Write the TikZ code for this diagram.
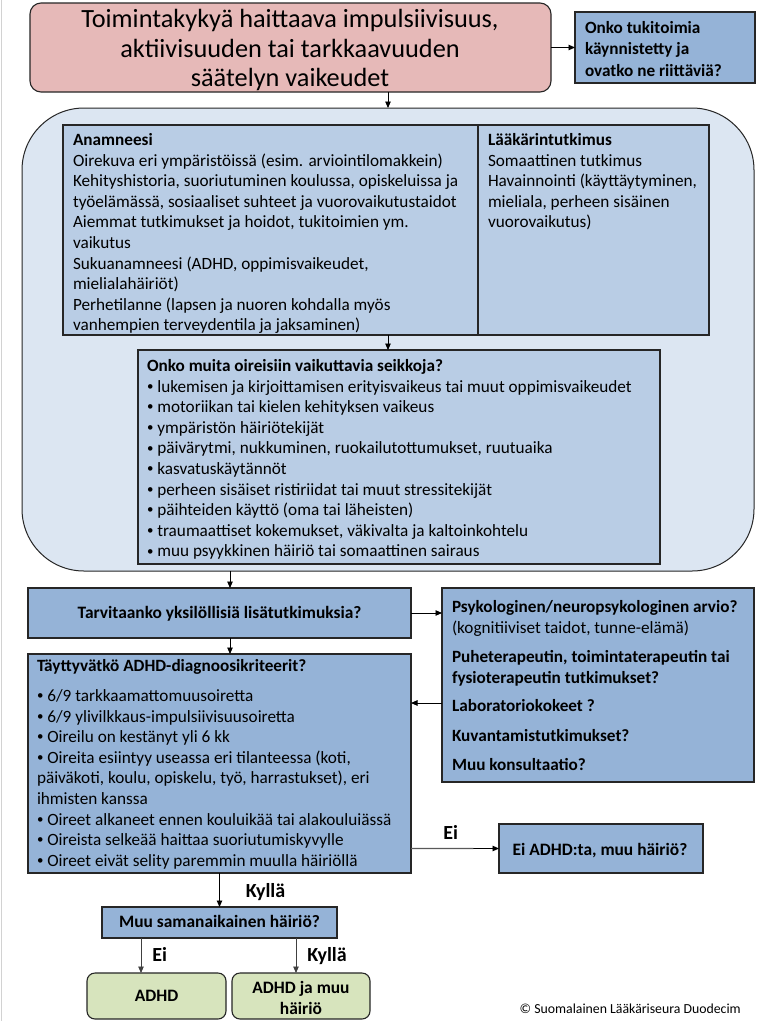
\documentclass[tikz,border=0pt]{standalone}
\usepackage{fontspec}
\setmainfont{Carlito}
\usetikzlibrary{arrows.meta,calc}
\definecolor{pinkfill}{HTML}{E6B9B8}
\definecolor{bluefill}{HTML}{95B3D7}
\definecolor{midfill}{HTML}{B9CDE5}
\definecolor{lightfill}{HTML}{DCE6F2}
\definecolor{greenfill}{HTML}{D7E4BD}
\definecolor{edgecol}{HTML}{262626}
\newcommand{\bul}{\raisebox{0.1em}{\scalebox{0.75}{•}}}
\begin{document}
\begin{tikzpicture}[x=1pt,y=-1pt,
  box/.style={draw=edgecol, line width=1.1pt, inner sep=0pt, outer sep=0pt, anchor=north west},
  txt/.style={inner sep=0pt, outer sep=0pt, anchor=north west, align=left, font=\fontsize{17.2}{20.6}\selectfont},
  btxt/.style={inner sep=0pt, outer sep=0pt, font=\fontsize{17.4}{21}\selectfont\bfseries},
  arr/.style={-{Triangle[length=6.5pt,width=5.5pt]}, line width=0.9pt, draw=black},
  lbl/.style={inner sep=0pt, font=\fontsize{20}{22}\selectfont\bfseries}]
\useasboundingbox (0,0) rectangle (769,1021);
\fill[white] (0,0) rectangle (769,1021);
\draw[gray!35, line width=1pt] (1,0) -- (1,1021);

% top
\node[box, fill=pinkfill, rounded corners=11pt, minimum width=521pt, minimum height=89pt] (title) at (30,3) {};
\node[inner sep=0pt, anchor=north, align=center, font=\fontsize{26.3}{29.5}\selectfont] (titlet) at (290,{27.5-0.7*29.5}) {\strut Toimintakykyä haittaava impulsiivisuus,\\ aktiivisuuden tai tarkkaavuuden\\ säätelyn vaikeudet};
\node[box, fill=bluefill, minimum width=180pt, minimum height=71pt] (tuki) at (575,12) {};
\node[txt, font=\fontsize{17.2}{21.5}\selectfont\bfseries] (tukit) at (585,{33-0.7*21.5}) {\strut Onko tukitoimia\\ käynnistetty ja\\ ovatko ne riittäviä?};

% big rounded container
\node[box, fill=lightfill, line width=1pt, rounded corners=62pt, minimum width=732pt, minimum height=463pt] (big) at (22,108) {};
\node[box, fill=midfill, minimum width=415pt, minimum height=210pt] (anam) at (63,125) {};
\node[box, fill=midfill, minimum width=231pt, minimum height=210pt] (laak) at (478,125) {};
\node[txt] (anamt) at (73,{145.5-0.7*20.6}) {\strut\textbf{Anamneesi}\\
Oirekuva eri ympäristöissä (esim. arviointilomakkein)\\
Kehityshistoria, suoriutuminen koulussa, opiskeluissa ja\\
työelämässä, sosiaaliset suhteet ja vuorovaikutustaidot\\
Aiemmat tutkimukset ja hoidot, tukitoimien ym.\\
vaikutus\\
Sukuanamneesi (ADHD, oppimisvaikeudet,\\
mielialahäiriöt)\\
Perhetilanne (lapsen ja nuoren kohdalla myös\\
vanhempien terveydentila ja jaksaminen)};
\node[txt] (laakt) at (488,{145.5-0.7*20.6}) {\strut\textbf{Lääkärintutkimus}\\
Somaattinen tutkimus\\
Havainnointi (käyttäytyminen,\\
mieliala, perheen sisäinen\\
vuorovaikutus)};
\node[box, fill=midfill, minimum width=522pt, minimum height=214pt] (muita) at (138,350) {};
\node[txt] (muitat) at (147,{371.5-0.7*20.6}) {\strut\textbf{Onko muita oireisiin vaikuttavia seikkoja?}\\
\bul{} lukemisen ja kirjoittamisen erityisvaikeus tai muut oppimisvaikeudet\\
\bul{} motoriikan tai kielen kehityksen vaikeus\\
\bul{} ympäristön häiriötekijät\\
\bul{} päivärytmi, nukkuminen, ruokailutottumukset, ruutuaika\\
\bul{} kasvatuskäytännöt\\
\bul{} perheen sisäiset ristiriidat tai muut stressitekijät\\
\bul{} päihteiden käyttö (oma tai läheisten)\\
\bul{} traumaattiset kokemukset, väkivalta ja kaltoinkohtelu\\
\bul{} muu psyykkinen häiriö tai somaattinen sairaus};

% middle
\node[box, fill=bluefill, minimum width=383pt, minimum height=50pt] (tarv) at (28,588) {};
\node[btxt, anchor=base] (tarvt) at (219.5,618) {Tarvitaanko yksilöllisiä lisätutkimuksia?};
\node[box, fill=bluefill, minimum width=312pt, minimum height=194pt] (psy) at (442,588) {};
\node[txt] (psyt) at (452,{612.5-0.7*20.6}) {\strut\textbf{Psykologinen/neuropsykologinen arvio?}\\
(kognitiiviset taidot, tunne-elämä)\\[9pt]
\textbf{Puheterapeutin, toimintaterapeutin tai}\\
\textbf{fysioterapeutin tutkimukset?}\\[8pt]
\textbf{Laboratoriokokeet ?}\\[8.5pt]
\textbf{Kuvantamistutkimukset?}\\[8.5pt]
\textbf{Muu konsultaatio?}};
\node[box, fill=bluefill, minimum width=383pt, minimum height=219pt] (crit) at (28,654) {};
\node[txt] (critt) at (37,{671.5-0.7*20.6}) {\strut\textbf{Täyttyvätkö ADHD-diagnoosikriteerit?}\\[9.4pt]
\bul{} 6/9 tarkkaamattomuusoiretta\\
\bul{} 6/9 ylivilkkaus-impulsiivisuusoiretta\\
\bul{} Oireilu on kestänyt yli 6 kk\\
\bul{} Oireita esiintyy useassa eri tilanteessa (koti,\\
päiväkoti, koulu, opiskelu, työ, harrastukset), eri\\
ihmisten kanssa\\
\bul{} Oireet alkaneet ennen kouluikää tai alakouluiässä\\
\bul{} Oireista selkeää haittaa suoriutumiskyvylle\\
\bul{} Oireet eivät selity paremmin muulla häiriöllä};
\node[box, fill=bluefill, minimum width=204pt, minimum height=49pt] (eiadhd) at (499,824) {};
\node[btxt, anchor=base] (eiadhdt) at (600,855) {Ei ADHD:ta, muu häiriö?};

% bottom
\node[box, fill=bluefill, minimum width=235pt, minimum height=31pt] (muu) at (102,907) {};
\node[btxt, anchor=base] (muut) at (219.5,927) {Muu samanaikainen häiriö?};
\node[box, fill=greenfill, rounded corners=8pt, minimum width=139pt, minimum height=46pt] (adhd) at (87,973) {};
\node[btxt, anchor=base] (adhdt) at (156.5,1001) {ADHD};
\node[box, fill=greenfill, rounded corners=8pt, minimum width=138pt, minimum height=46pt] (adhd2) at (232,973) {};
\node[btxt, anchor=base, align=center] (adhd2t) at (301,1014) {ADHD ja muu\\ häiriö};
\node[inner sep=0pt, anchor=base east, font=\fontsize{13.8}{15}\selectfont] (copy) at (741,1013) {© Suomalainen Lääkäriseura Duodecim};

% helper columns
\coordinate (colA) at (230,0);
\coordinate (colC) at (141,0);
\coordinate (colD) at (296,0);
\coordinate (rowB) at (0,703);

% connectors
\draw[arr] (title.east |- tuki.west) -- (tuki.west);
\draw[arr] (title.south -| big.north) -- (big.north);
\draw[arr] (anam.south -| big.north) -- (muita.north -| big.north);
\draw[arr] (big.south -| colA) -- (tarv.north -| colA);
\draw[arr] (tarv.east) -- (tarv.east -| psy.west);
\draw[arr] (tarv.south -| colA) -- (crit.north -| colA);
\draw[arr] (psy.west |- rowB) -- (crit.east |- rowB);
\draw[arr] (crit.east |- eiadhd.west) -- node[lbl, above=9pt, pos=0.45] (eilbl) {Ei} (eiadhd.west);
\draw[gray!70!black, line width=1.4pt] (crit.east |- eiadhd.west) -- ($(crit.east |- eiadhd.west)!0.71!(eiadhd.west)$);
\draw[arr] (crit.south -| muu.north) -- node[lbl, anchor=west, xshift=26pt, yshift=-2pt] (kylbl) {Kyllä} (muu.north);
\draw[arr, draw=black!75] (muu.south -| colC) -- node[lbl, anchor=west, xshift=11pt, yshift=1.5pt] (ei2lbl) {Ei} (adhd.north -| colC);
\draw[arr, draw=black!75] (muu.south -| colD) -- node[lbl, anchor=west, xshift=11pt, yshift=-0.5pt] (ky2lbl) {Kyllä} (adhd2.north -| colD);
\end{tikzpicture}
\end{document}
